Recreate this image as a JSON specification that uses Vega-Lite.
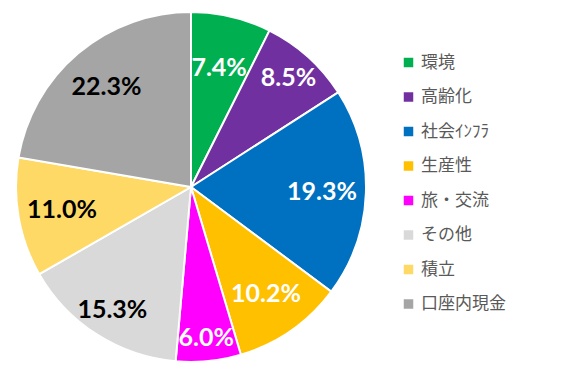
{
  "$schema": "https://vega.github.io/schema/vega-lite/v6.json",
  "width": 382,
  "height": 374,
  "padding": 0,
  "background": "white",
  "config": {"view": {"stroke": null}},
  "data": {"values": [
    {"cat": "環境", "value": 7.4, "order": 1},
    {"cat": "高齢化", "value": 8.5, "order": 2},
    {"cat": "社会ｲﾝﾌﾗ", "value": 19.3, "order": 3},
    {"cat": "生産性", "value": 10.2, "order": 4},
    {"cat": "旅・交流", "value": 6.0, "order": 5},
    {"cat": "その他", "value": 15.3, "order": 6},
    {"cat": "積立", "value": 11.0, "order": 7},
    {"cat": "口座内現金", "value": 22.3, "order": 8}
  ]},
  "transform": [
    {"stack": "value", "groupby": [], "sort": [{"field": "order", "order": "ascending"}], "as": ["start", "end"]},
    {"calculate": "(datum.start + datum.end) / 2", "as": "mid"},
    {"calculate": "format(datum.value, '.1f') + '%'", "as": "label"}
  ],
  "layer": [
    {
      "mark": {"type": "arc", "outerRadius": 175, "stroke": "white", "strokeWidth": 2},
      "encoding": {
        "theta": {"field": "start", "type": "quantitative", "scale": {"domain": [0, 100]}},
        "theta2": {"field": "end"},
        "color": {
          "field": "cat", "type": "nominal",
          "scale": {
            "domain": ["環境", "高齢化", "社会ｲﾝﾌﾗ", "生産性", "旅・交流", "その他", "積立", "口座内現金"],
            "range": ["#00B050", "#7030A0", "#0070C0", "#FFC000", "#FF00FF", "#D9D9D9", "#FFD966", "#A5A5A5"]
          },
          "sort": null,
          "legend": {
            "title": null,
            "orient": "none",
            "legendX": 400,
            "legendY": 54,
            "symbolType": "square",
            "symbolSize": 90,
            "symbolStrokeWidth": 0,
            "labelFont": "Noto Sans CJK JP",
            "labelFontSize": 17,
            "labelColor": "#595959",
            "labelOffset": 4,
            "rowPadding": 16.5,
            "padding": 0
          }
        }
      }
    },
    {
      "transform": [{"filter": "datum.cat === '旅・交流'"}],
      "mark": {"type": "text", "font": "Lato", "fontWeight": "bold", "fontSize": 25, "radius": 152, "color": "white"},
      "encoding": {
        "theta": {"field": "mid", "type": "quantitative", "scale": {"domain": [0, 100]}},
        "text": {"field": "label", "type": "nominal"}
      }
    },
    {
      "transform": [{"filter": "datum.cat === '高齢化' || datum.cat === 'その他'"}],
      "mark": {"type": "text", "font": "Lato", "fontWeight": "bold", "fontSize": 25, "radius": 146},
      "encoding": {
        "theta": {"field": "mid", "type": "quantitative", "scale": {"domain": [0, 100]}},
        "text": {"field": "label", "type": "nominal"},
        "color": {
          "condition": {"test": "datum.cat === 'その他'", "value": "black"},
          "value": "white"
        }
      }
    },
    {
      "transform": [{"filter": "datum.cat === '環境'"}],
      "mark": {"type": "text", "font": "Lato", "fontWeight": "bold", "fontSize": 25, "radius": 122, "color": "white"},
      "encoding": {
        "theta": {"field": "mid", "type": "quantitative", "scale": {"domain": [0, 100]}},
        "text": {"field": "label", "type": "nominal"}
      }
    },
    {
      "transform": [{"filter": "indexof(['社会ｲﾝﾌﾗ','生産性','積立','口座内現金'], datum.cat) >= 0"}],
      "mark": {"type": "text", "font": "Lato", "fontWeight": "bold", "fontSize": 25, "radius": 131},
      "encoding": {
        "theta": {"field": "mid", "type": "quantitative", "scale": {"domain": [0, 100]}},
        "text": {"field": "label", "type": "nominal"},
        "color": {
          "condition": {"test": "indexof(['積立','口座内現金'], datum.cat) >= 0", "value": "black"},
          "value": "white"
        }
      }
    }
  ]
}
